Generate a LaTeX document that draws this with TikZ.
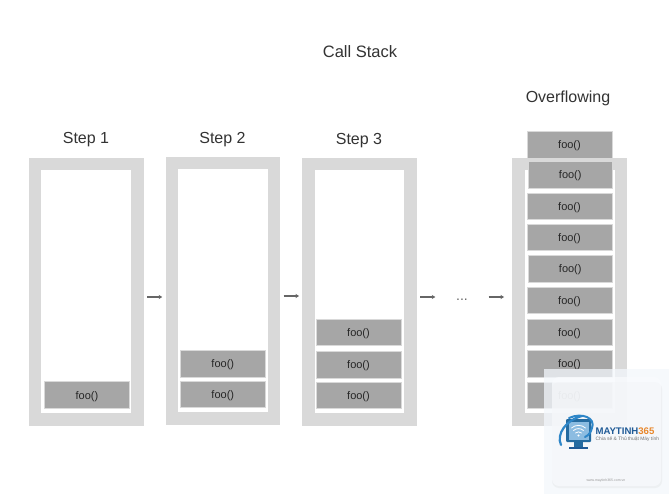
\documentclass[tikz,border=0pt]{standalone}
\usepackage{fontspec}
\setmainfont{Liberation Sans}
\usetikzlibrary{arrows.meta}
\definecolor{framegray}{HTML}{D9D9D9}
\definecolor{boxgray}{HTML}{A6A6A6}
\definecolor{ink}{HTML}{333333}
\definecolor{arrowgray}{HTML}{666666}
\definecolor{logoblue}{HTML}{2E86C8}
\definecolor{logonavy}{HTML}{1F5A96}
\definecolor{logoorange}{HTML}{E8872B}
\definecolor{panelblue}{HTML}{F3F7FC}
\definecolor{cardblue}{HTML}{F9FBFE}
\tikzset{
  x=1pt,y=-1pt,
  outerframe/.style={fill=framegray,inner sep=0pt,outer sep=0pt},
  innerframe/.style={fill=white,inner sep=0pt,outer sep=0pt},
  foobox/.style={fill=boxgray,draw=framegray,line width=0.5pt,inner sep=0pt,outer sep=0pt,text=black!85,font=\fontsize{11}{13}\selectfont},
  heading/.style={text=ink,font=\fontsize{16}{20}\selectfont,inner sep=0pt},
  flow/.style={draw=arrowgray,line width=1.2pt,-{Stealth[length=3.5pt,width=4.2pt]}},
}
\newcommand{\frameat}[5]{% name, x1,y1,x2,y2
  \node[outerframe,minimum width=#4pt-#2pt,minimum height=#5pt-#3pt] (#1) at ({(#2+#4)/2},{(#3+#5)/2}) {};
  \node[innerframe,minimum width=#4pt-#2pt-25pt,minimum height=#5pt-#3pt-25pt] (#1i) at ({(#2+#4)/2},{(#3+#5)/2}) {};
}
\newcommand{\fooat}[5]{% name,x1,y1,x2,y2
  \node[foobox,minimum width=#4pt-#2pt,minimum height=#5pt-#3pt] (#1) at ({(#2+#4)/2},{(#3+#5)/2}) {\raisebox{-4pt}[0pt][0pt]{foo()}};
}
\begin{document}
\begin{tikzpicture}
\useasboundingbox (0,0) rectangle (669,494);
\fill[white] (0,0) rectangle (669,494);
\node[heading,font=\fontsize{16.5}{20}\selectfont] (title) at (360,52) {Call Stack};
\node[heading] (s1) at (86,139.5) {Step 1};
\node[heading] (s2) at (222.5,139.5) {Step 2};
\node[heading] (s3) at (359,140.5) {Step 3};
\node[heading] (s4) at (568,98.5) {Overflowing};
% overflowing top box sits behind the frame
\fooat{t0}{527}{131.5}{612}{158}
\frameat{f1}{28.5}{158}{143.5}{425.5}
\frameat{f2}{165.7}{157}{280}{424.5}
\frameat{f3}{302}{158}{416.5}{425.5}
\frameat{f4}{512}{158}{627}{425.5}
\fooat{a1}{44.5}{381.7}{129.5}{408.3}
\fooat{b2}{180.3}{350}{265.3}{377}
\fooat{b1}{180.3}{381}{265.3}{407.5}
\fooat{c3}{316}{319}{401}{345.5}
\fooat{c2}{316}{351}{401}{378}
\fooat{c1}{316}{382}{401}{408.5}
\fooat{t1}{528}{161.7}{612.5}{188.3}
\fooat{t2}{527}{193}{612}{219.5}
\fooat{t3}{527}{224}{612}{250.5}
\fooat{t4}{528}{255.5}{612.5}{282}
\fooat{t5}{527}{287}{612}{313.5}
\fooat{t6}{527}{319}{612}{345.5}
\fooat{t7}{527}{350.5}{612}{377}
\fooat{t8}{527}{382}{612}{408.5}
% connectors
\coordinate (ay) at (0,297);
\coordinate (by) at (0,296);
\node[text=arrowgray,font=\fontsize{14}{16}\selectfont,inner sep=0pt,minimum width=13pt] (dots) at (462,300) {...};
\draw[flow,shorten <=3.5pt,shorten >=3.5pt] (f1.east |- ay) -- (f2.west |- ay);
\draw[flow,shorten <=3.5pt,shorten >=3pt] (f2.east |- by) -- (f3.west |- by);
\draw[flow,shorten <=3.5pt,shorten >=20pt] (f3.east |- ay) -- (dots.west |- ay);
\draw[flow,shorten <=20pt,shorten >=8pt] (dots.east |- ay) -- (f4.west |- ay);
% watermark
\fill[panelblue,opacity=.75] (544,369) rectangle (669,494);
\fill[black!25,opacity=.15,rounded corners=7pt] (552,382) rectangle (662,488);
\fill[cardblue,rounded corners=7pt,opacity=.72] (552,377) rectangle (661,486);
% logo
\fill[logoblue!80!black,rounded corners=1pt] (566,419) rectangle (591,442);
\fill[logoblue!55!white] (568.5,421.5) rectangle (588.5,439.5);
\draw[white,line width=.8pt,line cap=round] (571.5,428) .. controls (575,424.5) and (582,424.5) .. (585.5,428);
\draw[white,line width=.8pt,line cap=round] (573.5,430.5) .. controls (576,428) and (581,428) .. (583.5,430.5);
\draw[white,line width=.8pt,line cap=round] (575.5,433) .. controls (577,431.5) and (580,431.5) .. (581.5,433);
\fill[white] (578.5,435.5) circle (1.1);
\fill[logoblue!80!black] (574,442) rectangle (583,447);
\fill[logonavy] (569,447) rectangle (588,449);
\draw[logoblue,line width=2.2pt,line cap=round] (561,445) .. controls (556,434) and (566,420) .. (582,416);
\draw[logoblue,line width=2pt,line cap=round] (569,418) .. controls (582,412) and (596,418) .. (592,428) .. controls (591,432) and (589,435) .. (585,437);
\node[anchor=west,inner sep=0pt,text=logonavy,font=\bfseries\fontsize{9.6}{11}\selectfont] (brand) at (595.3,431.5) {MAYTINH\textcolor{logoorange}{365}};
\node[anchor=west,inner sep=0pt,text=black!55,font=\fontsize{4.9}{6}\selectfont] (tag) at (595.5,439.5) {Chia sẻ \& Thủ thuật Máy tính};
\node[inner sep=0pt,text=black!40,font=\fontsize{3.5}{5}\selectfont] (url) at (606,481) {www.maytinh365.com.vn};
\end{tikzpicture}
\end{document}
